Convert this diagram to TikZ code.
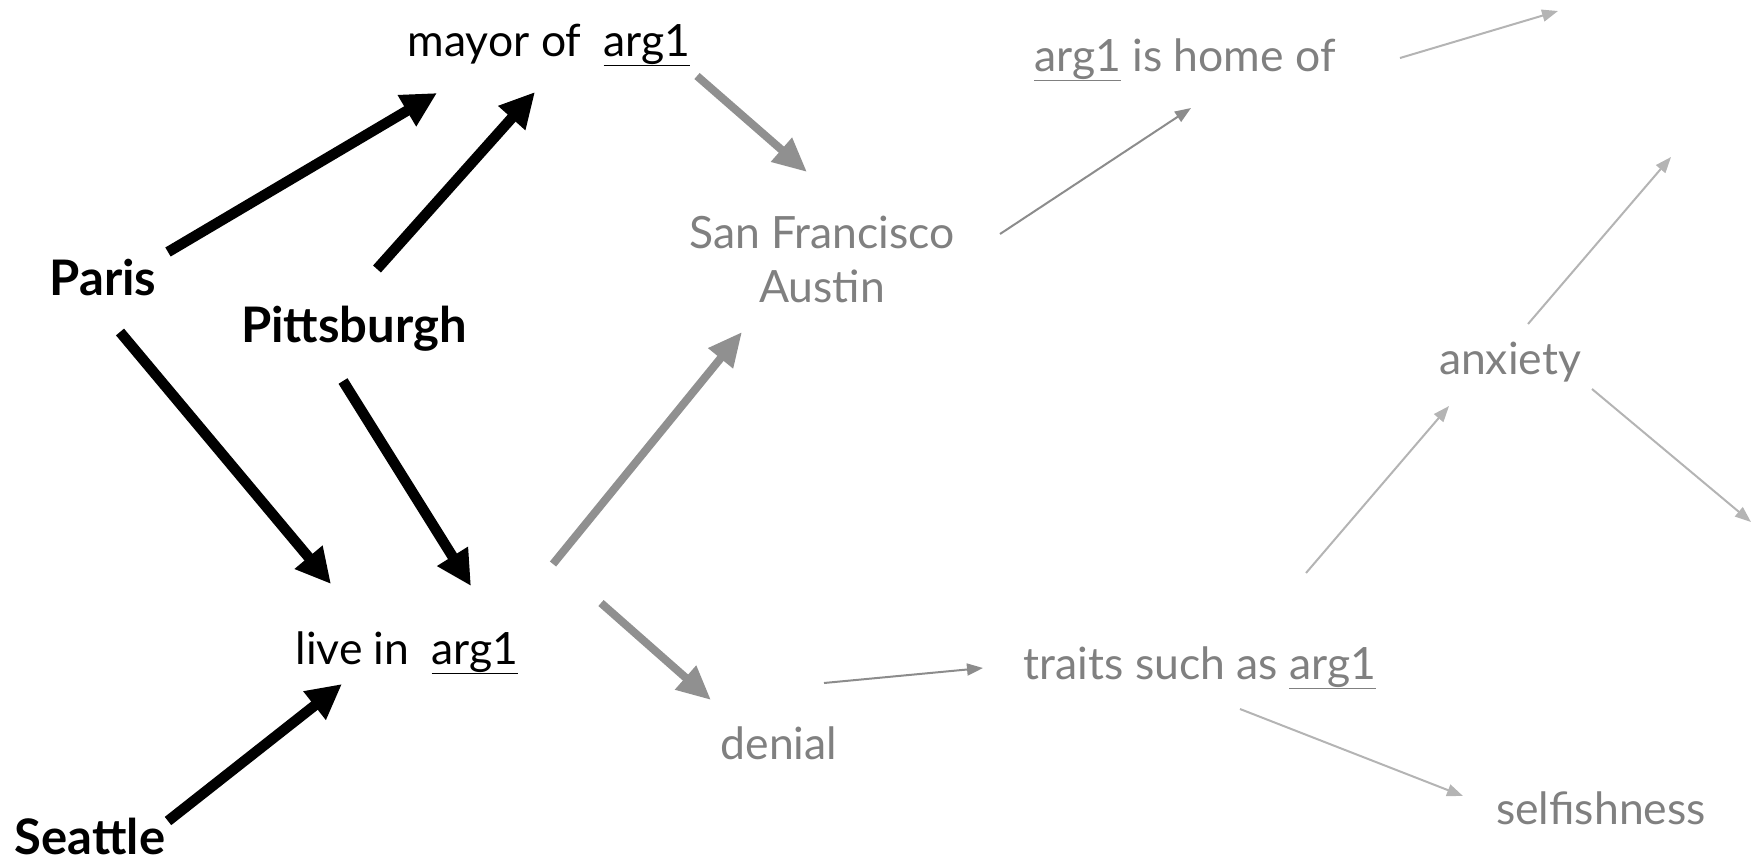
\documentclass[tikz,border=0pt]{standalone}
\usepackage{fontspec}
\setmainfont{Lato}
\usetikzlibrary{arrows.meta}
\definecolor{txtgray}{HTML}{808080}
\definecolor{thickgray}{HTML}{909090}
\definecolor{midgray}{HTML}{8C8C8C}
\definecolor{lightgray}{HTML}{B4B4B4}
\begin{document}
\begin{tikzpicture}[x=1pt,y=-1pt,
  lbl/.style={inner sep=0pt,anchor=base,font=\fontsize{44.5}{54}\selectfont},
  blbl/.style={inner sep=0pt,anchor=base,font=\fontsize{49}{56}\selectfont\bfseries},
  graytxt/.style={text=txtgray},
  blackarrow/.style={draw=black,line width=10.5pt,-{Triangle[length=35pt,width=34pt]}},
  grayarrow/.style={draw=thickgray,line width=8pt,-{Triangle[length=34pt,width=30pt]}},
  thinarrow/.style={draw=midgray,line width=2pt,-{Triangle[length=16pt,width=12pt]}},
  lightarrow/.style={draw=lightgray,line width=2pt,-{Triangle[length=16pt,width=12pt]}}]
\useasboundingbox (0,0) rectangle (1758,865);
\node[lbl] (mayor) at (549,56) {mayor of\hspace{0.5em}\underline{arg1}};
\node[blbl] (paris) at (103,295) {Paris};
\node[blbl] (pitt) at (354,342) {Pittsburgh};
\node[blbl] (seattle) at (90,854) {Seattle};
\node[lbl] (live) at (407,664) {live in\hspace{0.5em}\underline{arg1}};
\node[lbl,graytxt,anchor=center,align=center] (sf) at (822,259) {San Francisco\\Austin};
\node[lbl,graytxt] (home) at (1185,71) {\underline{arg1} is home of};
\node[lbl,graytxt] (anx) at (1510,374) {anxiety};
\node[lbl,graytxt] (traits) at (1200,679) {traits such as \underline{arg1}};
\node[lbl,graytxt] (denial) at (779,759) {denial};
\node[lbl,graytxt] (self) at (1601,824) {selfishness};
\coordinate (out1) at (1558,11);
\coordinate (out2) at (1671,157);
\coordinate (out3) at (1751,522);
% black arrows
\draw[blackarrow] ([shift={(65,-43)}]paris.base) -- ([shift={(-112,37)}]mayor.base);
\draw[blackarrow] ([shift={(23,-73)}]pitt.base) -- ([shift={(-14,36)}]mayor.base);
\draw[blackarrow] ([shift={(17,37)}]paris.base) -- ([shift={(-76,-80)}]live.base);
\draw[blackarrow] ([shift={(-11,39)}]pitt.base) -- ([shift={(64,-78)}]live.base);
\draw[blackarrow] ([shift={(78,-33)}]seattle.base) -- ([shift={(-65,20)}]live.base);
% thick gray arrows
\draw[grayarrow] ([shift={(148,20)}]mayor.base) -- ([shift={(-15,-87)}]sf.center);
\draw[grayarrow] ([shift={(146,-100)}]live.base) -- ([shift={(-80,73)}]sf.center);
\draw[grayarrow] ([shift={(194,-61)}]live.base) -- ([shift={(-68,-59)}]denial.base);
% thin arrows
\draw[thinarrow] ([shift={(178,-25)}]sf.center) -- ([shift={(6,37)}]home.base);
\draw[thinarrow] ([shift={(45,-76)}]denial.base) -- ([shift={(-217,-11)}]traits.base);
\draw[lightarrow] ([shift={(215,-13)}]home.base) -- (out1);
\draw[lightarrow] ([shift={(106,-106)}]traits.base) -- ([shift={(-61,32)}]anx.base);
\draw[lightarrow] ([shift={(40,30)}]traits.base) -- ([shift={(-138,-28)}]self.base);
\draw[lightarrow] ([shift={(18,-50)}]anx.base) -- (out2);
\draw[lightarrow] ([shift={(82,15)}]anx.base) -- (out3);
\end{tikzpicture}
\end{document}
